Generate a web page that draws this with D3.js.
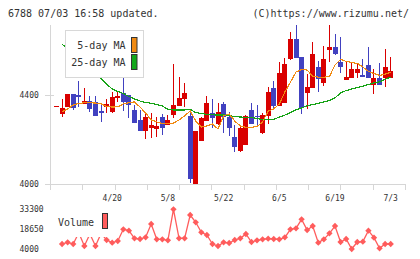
<!DOCTYPE html>
<html>
  <head>
    <meta charset="utf-8">
    <title>6788 chart</title>
    <script src="https://cdn.jsdelivr.net/npm/d3@7"></script>
    <style>
      body { margin: 0; background: #fff; }
      text { font-family: "DejaVu Sans Mono", monospace; fill: #333; }
    </style>
  </head>

  <body>
    <svg id="chart" width="420" height="259"></svg>

    <script>
      // data (prices in yen, volume in shares)
      opens  = [4350,4315,4347,4404,4400,4360,4373,4368,4328,4346,4324,4386,4409,4400,4333,4288,4238,4252,4247,4301,4265,4310,4350,4382,4306,4000,4193,4283,4319,4270,4360,4301,4211,4148,4175,4333,4306,4229,4306,4431,4350,4364,4562,4652,4571,4409,4431,4526,4454,4602,4616,4548,4467,4476,4499,4490,4535,4445,4476,4476,4476];
      highs  = [4350,4382,4404,4404,4463,4431,4395,4395,4355,4382,4413,4418,4499,4400,4355,4333,4318,4318,4301,4315,4310,4539,4482,4454,4333,4238,4301,4395,4382,4364,4368,4324,4265,4265,4310,4364,4355,4318,4436,4463,4548,4566,4683,4714,4571,4494,4638,4553,4620,4714,4674,4661,4548,4544,4544,4562,4616,4517,4544,4607,4571];
      lows   = [4350,4302,4347,4333,4347,4359,4325,4307,4280,4319,4319,4368,4328,4297,4275,4238,4204,4207,4211,4220,4265,4297,4350,4346,4004,4000,4193,4283,4252,4265,4229,4216,4144,4144,4175,4270,4256,4225,4270,4337,4350,4364,4557,4566,4315,4337,4431,4413,4440,4548,4580,4499,4467,4476,4476,4481,4476,4404,4445,4436,4476];
      closes = [4350,4341,4404,4343,4392,4373,4337,4307,4319,4360,4390,4395,4368,4355,4276,4238,4301,4265,4261,4252,4288,4355,4386,4409,4022,4238,4297,4364,4297,4324,4301,4252,4166,4252,4306,4270,4301,4310,4413,4350,4499,4539,4652,4566,4341,4436,4584,4472,4562,4616,4584,4526,4481,4517,4517,4481,4476,4476,4445,4526,4508];

      ma5  = [null,4324,4337,4355,4362,4365,4365,4364,4360,4348,4346,4347,4360,4366,4369,4346,4319,4288,4279,4272,4270,4274,4288,4306,4328,4283,4256,4261,4270,4247,4306,4315,4283,4261,4255,4255,4258,4279,4328,4337,4360,4413,4458,4503,4515,4512,4485,4480,4480,4483,4535,4560,4551,4546,4542,4526,4506,4497,4488,4494,4503];
      ma25 = [null,4629,4607,4584,4562,4539,4517,4494,4474,4449,4427,4416,4407,4393,4382,4373,4366,4363,4357,4351,4336,4333,4333,4333,4336,4321,4317,4313,4311,4310,4310,4308,4303,4301,4300,4300,4294,4290,4288,4290,4301,4310,4321,4333,4342,4351,4357,4363,4369,4375,4387,4409,4420,4427,4434,4440,4447,4454,4460,4470,4481];

      volume = [null,7690,8920,7690,16000,6214,15000,6214,15500,10642,8673,9904,18515,17530,11874,11380,12610,22450,11136,11136,10398,33300,11874,11874,29090,23700,16300,14330,7690,6214,8920,8428,10642,11874,15070,9166,10398,11136,11627,11380,11136,12610,18515,19253,25893,18022,20974,8673,11136,15563,20974,9166,11380,4000,9166,9413,17530,12363,4492,7690,7690];

      dateLabels = ["4/20", "5/8", "5/22", "6/5", "6/19", "7/3"];
      dateIndex = [10, 20, 30, 40, 50, 60];
      priceTicks = [4000, 4400];
      volumeTicks = [4000, 18650, 33300];

      red = "#d90000";
      blue = "#4141c0";
      grey = "#d6d6d6";
      volRed = "#ff5c5c";

      chart = d3.select("#chart");

      // scales
      x = d3.scaleLinear().domain([0, 60]).range([56.5, 390.7]);
      y = d3.scaleLinear().domain([4000, 4400]).range([184, 95]);
      vy = d3.scaleLinear().domain([4000, 33300]).range([249, 209.3]);
      grid = d3.scaleLinear().domain([0, 11]).range([50, 405]);

      // header
      chart.append("text").attr("x", 8).attr("y", 17)
        .style("font-size", "10px").text("6788 07/03 16:58 updated.");
      chart.append("text").attr("x", 409).attr("y", 17).attr("text-anchor", "end")
        .style("font-size", "10px").text("(C)https://www.rizumu.net/");

      // axes
      axis = chart.append("g").attr("shape-rendering", "crispEdges");
      axis.append("line")
        .attr("x1", 50.5).attr("x2", 50.5).attr("y1", 25).attr("y2", 190)
        .style("stroke", grey);
      axis.append("line")
        .attr("x1", 50).attr("x2", 405).attr("y1", 184.5).attr("y2", 184.5)
        .style("stroke", grey);
      axis.selectAll(".xtick")
        .data(d3.range(12))
        .enter().append("line")
          .attr("x1", d => Math.round(grid(d)) + 0.5)
          .attr("x2", d => Math.round(grid(d)) + 0.5)
          .attr("y1", 184).attr("y2", 190)
          .style("stroke", grey);
      axis.selectAll(".ytick")
        .data(priceTicks)
        .enter().append("line")
          .attr("x1", 45)
          .attr("x2", d => d == 4000 ? 50 : 54)
          .attr("y1", d => Math.round(y(d)) + 0.5)
          .attr("y2", d => Math.round(y(d)) + 0.5)
          .style("stroke", grey);

      chart.selectAll(".ylabel")
        .data(priceTicks)
        .enter().append("text")
          .attr("x", 19.5)
          .attr("y", d => y(d) + 3)
          .style("font-size", "8px")
          .text(d => d);

      chart.selectAll(".xlabel")
        .data(dateLabels)
        .enter().append("text")
          .attr("x", (d, i) => x(dateIndex[i]))
          .attr("y", 200.5)
          .attr("text-anchor", "middle")
          .style("font-size", "8px")
          .text(d => d);

      // candles
      candles = chart.append("g").attr("shape-rendering", "crispEdges");
      candles.selectAll(".wick")
        .data(opens)
        .enter().append("rect")
          .attr("x", (d, i) => Math.round(x(i) - 2.5) + 2)
          .attr("y", (d, i) => y(highs[i]))
          .attr("width", 1)
          .attr("height", (d, i) => Math.max(1, y(lows[i]) - y(highs[i])))
          .style("fill", (d, i) => closes[i] >= d ? red : blue);
      candles.selectAll(".body")
        .data(opens)
        .enter().append("rect")
          .attr("x", (d, i) => Math.round(x(i) - 2.5))
          .attr("y", (d, i) => y(Math.max(d, closes[i])))
          .attr("width", 5)
          .attr("height", (d, i) => Math.max(1, Math.abs(y(d) - y(closes[i]))))
          .style("fill", (d, i) => closes[i] >= d ? red : blue);

      // moving averages
      maLine = d3.line()
        .defined(d => d != null)
        .x((d, i) => x(i))
        .y(d => y(d));
      chart.append("path").datum(ma25).attr("d", maLine)
        .style("fill", "none").style("stroke", "#16a316").style("stroke-width", 1.2)
        .attr("shape-rendering", "crispEdges");
      chart.append("path").datum(ma5).attr("d", maLine)
        .style("fill", "none").style("stroke", "#f08a12").style("stroke-width", 1.2)
        .attr("shape-rendering", "crispEdges");

      // legend
      legend = chart.append("g");
      legend.append("rect")
        .attr("x", 65.5).attr("y", 30.5).attr("width", 78).attr("height", 47)
        .style("fill", "#fff").style("stroke", "#d8d8d8");
      legend.selectAll("text")
        .data(["5-day MA", "25-day MA"])
        .enter().append("text")
          .attr("x", 125.5)
          .attr("y", (d, i) => 49 + i * 17)
          .attr("text-anchor", "end")
          .style("font-size", "10px")
          .text(d => d);
      legend.selectAll(".swatch")
        .data(["#f08a12", "#13a81b"])
        .enter().append("rect")
          .attr("x", 131.5)
          .attr("y", (d, i) => 37.5 + i * 17)
          .attr("width", 5.5)
          .attr("height", 15)
          .style("fill", d => d)
          .style("stroke", "#333");

      // volume
      volPoints = volume
        .map((v, i) => ({ index: i, value: v }))
        .filter(d => d.value != null);
      vLine = d3.line()
        .x(d => x(d.index))
        .y(d => vy(d.value));
      chart.append("path").datum(volPoints).attr("d", vLine)
        .style("fill", "none").style("stroke", volRed).style("stroke-width", 1.3);
      chart.selectAll(".vol")
        .data(volPoints)
        .enter().append("path")
          .attr("d", d3.symbol(d3.symbolSquare, 20))
          .attr("transform", d => "translate(" + x(d.index) + "," + vy(d.value) + ") rotate(45)")
          .style("fill", volRed);

      chart.selectAll(".vlabel")
        .data(volumeTicks)
        .enter().append("text")
          .attr("x", 19.5)
          .attr("y", d => vy(d) + 3)
          .style("font-size", "8px")
          .text(d => d);

      chart.append("rect")
        .attr("x", 55).attr("y", 207).attr("width", 56).attr("height", 30)
        .style("fill", "#fff");
      chart.append("text").attr("x", 58).attr("y", 225.5)
        .style("font-size", "10px").text("Volume");
      chart.append("rect")
        .attr("x", 102.5).attr("y", 213.5).attr("width", 5).attr("height", 15)
        .style("fill", volRed).style("stroke", "#333");
    </script>
  </body>
</html>
